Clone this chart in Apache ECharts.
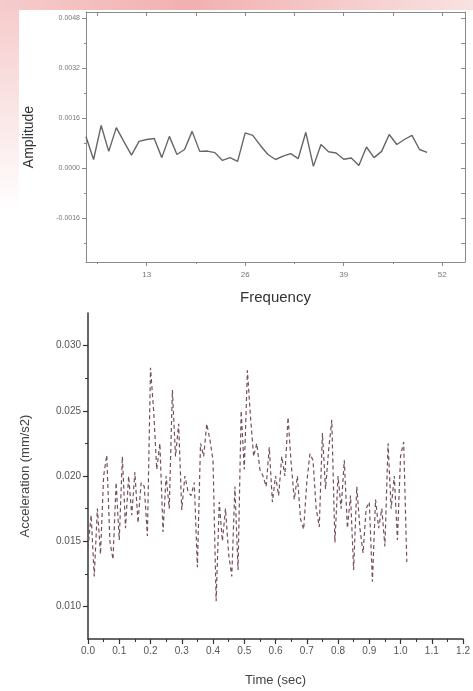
<!DOCTYPE html>
<html>
<head>
<meta charset="utf-8">
<script src="https://cdn.jsdelivr.net/npm/echarts@6/dist/echarts.min.js"></script>
<style>html,body{margin:0;padding:0;background:#fff;}#c{width:473px;height:691px;}</style>
</head>
<body>
<div id="c"></div>
<script>
// ---- Top chart: amplitude spectrum ----
const freq = [5,6,7,8,9,10,11,12,13,14,15,16,17,18,19,20,21,22,23,24,25,26,27,28,29,30,31,32,33,34,35,36,37,38,39,40,41,42,43,44,45,46,47,48,49,50];
const amplitude = [0.00101,0.00028,0.00137,0.00054,0.00130,0.00085,0.00042,0.00086,0.00092,0.00095,0.00034,0.00102,0.00044,0.00060,0.00118,0.00054,0.00055,0.00050,0.00025,0.00034,0.00022,0.00113,0.00105,0.00073,0.00044,0.00028,0.00039,0.00047,0.00031,0.00115,0.00006,0.00076,0.00053,0.00049,0.00029,0.00033,0.00009,0.00068,0.00034,0.00054,0.00108,0.00076,0.00092,0.00105,0.00060,0.00051];
const freqTicks = [13,26,39,52];
const freqMinorTicks = [6.5,19.5,32.5,45.5];
const ampTicks = [-0.0016,0,0.0016,0.0032,0.0048];
const ampMinorTicks = [-0.0024,-0.0008,0.0008,0.0024,0.0040];

// ---- Bottom chart: acceleration time history ----
const time = [0.00,0.01,0.02,0.03,0.04,0.05,0.06,0.07,0.08,0.09,0.10,0.11,0.12,0.13,0.14,0.15,0.16,0.17,0.18,0.19,0.20,0.21,0.22,0.23,0.24,0.25,0.26,0.27,0.28,0.29,0.30,0.31,0.32,0.33,0.34,0.35,0.36,0.37,0.38,0.39,0.40,0.41,0.42,0.43,0.44,0.45,0.46,0.47,0.48,0.49,0.50,0.51,0.52,0.53,0.54,0.55,0.56,0.57,0.58,0.59,0.60,0.61,0.62,0.63,0.64,0.65,0.66,0.67,0.68,0.69,0.70,0.71,0.72,0.73,0.74,0.75,0.76,0.77,0.78,0.79,0.80,0.81,0.82,0.83,0.84,0.85,0.86,0.87,0.88,0.89,0.90,0.91,0.92,0.93,0.94,0.95,0.96,0.97,0.98,0.99,1.00,1.01,1.02];
const acceleration = [0.0145,0.0170,0.0123,0.0175,0.0140,0.0200,0.0216,0.0150,0.0136,0.0195,0.0151,0.0215,0.0160,0.0200,0.0170,0.0203,0.0164,0.0195,0.0192,0.0154,0.0283,0.0250,0.0205,0.0225,0.0157,0.0200,0.0175,0.0266,0.0215,0.0240,0.0174,0.0200,0.0188,0.0185,0.0195,0.0130,0.0225,0.0215,0.0240,0.0228,0.0212,0.0104,0.0180,0.0150,0.0175,0.0140,0.0123,0.0192,0.0128,0.0250,0.0205,0.0281,0.0245,0.0215,0.0225,0.0205,0.0200,0.0192,0.0222,0.0180,0.0200,0.0185,0.0215,0.0200,0.0245,0.0210,0.0182,0.0200,0.0167,0.0159,0.0195,0.0217,0.0212,0.0175,0.0161,0.0233,0.0190,0.0220,0.0243,0.0149,0.0200,0.0175,0.0212,0.0160,0.0185,0.0128,0.0192,0.0160,0.0141,0.0175,0.0180,0.0119,0.0182,0.0160,0.0175,0.0146,0.0225,0.0175,0.0200,0.0151,0.0215,0.0226,0.0134];
const accTicks = [0.010,0.015,0.020,0.025,0.030];
const accMinorTicks = [0.0125,0.0175,0.0225,0.0275];

const FONT = "'Liberation Sans', Arial, sans-serif";
const topC = '#8a8a8a';
const botC = '#333';

const chart = echarts.init(document.getElementById('c'));
chart.setOption({
  backgroundColor: '#fff',
  animation: false,
  textStyle: {fontFamily: FONT},
  graphic: [
    {type:'rect', z:-10, shape:{x:0,y:0,width:473,height:10},
     style:{fill:new echarts.graphic.LinearGradient(0,0,1,0,[{offset:0,color:'#f6cccc'},{offset:0.4,color:'#f2b0b0'},{offset:1,color:'#f9e2e2'}])}},
    {type:'rect', z:-10, shape:{x:0,y:10,width:19,height:200},
     style:{fill:new echarts.graphic.LinearGradient(0,0,0,1,[{offset:0,color:'#f6cccc'},{offset:1,color:'#ffffff'}])}}
  ],
  grid: [
    {left:86, right:8, top:12, bottom:429},
    {left:88, right:8, top:313, bottom:52}
  ],
  xAxis: [
    {type:'value', gridIndex:0, min:5, max:55, position:'bottom',
     name:'Frequency', nameLocation:'middle', nameGap:28,
     nameTextStyle:{fontSize:15, color:'#333', fontFamily:FONT},
     axisLine:{show:true, onZero:false, lineStyle:{color:topC, width:1}},
     axisTick:{show:true, customValues:freqTicks, length:4, inside:false, lineStyle:{color:topC}},
     axisLabel:{show:true, customValues:freqTicks, fontSize:8, color:'#777', margin:9, fontFamily:FONT},
     splitLine:{show:false}},
    {type:'value', gridIndex:0, min:5, max:55, position:'bottom',
     axisLine:{show:false, onZero:false},
     axisTick:{show:true, customValues:freqMinorTicks, length:2, lineStyle:{color:topC}},
     axisLabel:{show:false}, splitLine:{show:false}},
    {type:'value', gridIndex:0, min:5, max:55, position:'top',
     axisLine:{show:true, onZero:false, lineStyle:{color:topC, width:1}},
     axisTick:{show:true, customValues:freqTicks.concat(freqMinorTicks), length:4, inside:true, lineStyle:{color:topC}},
     axisLabel:{show:false}, splitLine:{show:false}},
    {type:'value', gridIndex:1, min:0, max:1.2, interval:0.1, position:'bottom',
     name:'Time (sec)', nameLocation:'middle', nameGap:35,
     nameTextStyle:{fontSize:13, color:'#444', fontFamily:FONT},
     axisLine:{show:true, onZero:false, lineStyle:{color:botC, width:1.5}},
     axisTick:{show:true, length:5, inside:false, lineStyle:{color:botC, width:1.2}},
     minorTick:{show:true, splitNumber:2, length:3, lineStyle:{color:botC, width:1}},
     axisLabel:{show:true, fontSize:10, color:'#555', margin:7, fontFamily:FONT,
       formatter:function(v){return v.toFixed(1);}},
     splitLine:{show:false}}
  ],
  yAxis: [
    {type:'value', gridIndex:0, min:-0.003, max:0.005, position:'left',
     name:'Amplitude', nameLocation:'middle', nameGap:50,
     nameTextStyle:{fontSize:14, color:'#333', fontFamily:FONT},
     axisLine:{show:true, onZero:false, lineStyle:{color:topC, width:1}},
     axisTick:{show:true, customValues:ampTicks, length:4, inside:false, lineStyle:{color:topC}},
     axisLabel:{show:true, customValues:ampTicks, fontSize:7, color:'#777', margin:6, fontFamily:FONT,
       formatter:function(v){return v.toFixed(4);}},
     splitLine:{show:false}},
    {type:'value', gridIndex:0, min:-0.003, max:0.005, position:'left',
     axisLine:{show:false, onZero:false},
     axisTick:{show:true, customValues:ampMinorTicks, length:2, lineStyle:{color:topC}},
     axisLabel:{show:false}, splitLine:{show:false}},
    {type:'value', gridIndex:0, min:-0.003, max:0.005, position:'right',
     axisLine:{show:true, onZero:false, lineStyle:{color:topC, width:1}},
     axisTick:{show:true, customValues:ampTicks.concat(ampMinorTicks), length:4, inside:true, lineStyle:{color:topC}},
     axisLabel:{show:false}, splitLine:{show:false}},
    {type:'value', gridIndex:1, min:0.0075, max:0.0325, position:'left',
     name:'Acceleration (mm/s2)', nameLocation:'middle', nameGap:56,
     nameTextStyle:{fontSize:13, color:'#444', fontFamily:FONT},
     axisLine:{show:true, onZero:false, lineStyle:{color:botC, width:1.5}},
     axisTick:{show:true, customValues:accTicks, length:5, inside:false, lineStyle:{color:botC, width:1.2}},
     axisLabel:{show:true, customValues:accTicks, fontSize:10, color:'#555', margin:7, fontFamily:FONT,
       formatter:function(v){return v.toFixed(3);}},
     splitLine:{show:false}},
    {type:'value', gridIndex:1, min:0.0075, max:0.0325, position:'left',
     axisLine:{show:false, onZero:false},
     axisTick:{show:true, customValues:accMinorTicks, length:3, lineStyle:{color:botC, width:1}},
     axisLabel:{show:false}, splitLine:{show:false}}
  ],
  series: [
    {type:'line', xAxisIndex:0, yAxisIndex:0, showSymbol:false, symbol:'none',
     data: freq.map(function(f,i){return [f, amplitude[i]];}),
     lineStyle:{color:'#666', width:1.4}},
    {type:'line', xAxisIndex:3, yAxisIndex:3, showSymbol:false, symbol:'none',
     data: time.map(function(t,i){return [t, acceleration[i]];}),
     lineStyle:{color:'#74505a', width:1.2, type:[4,3]}}
  ]
});
</script>
</body>
</html>
